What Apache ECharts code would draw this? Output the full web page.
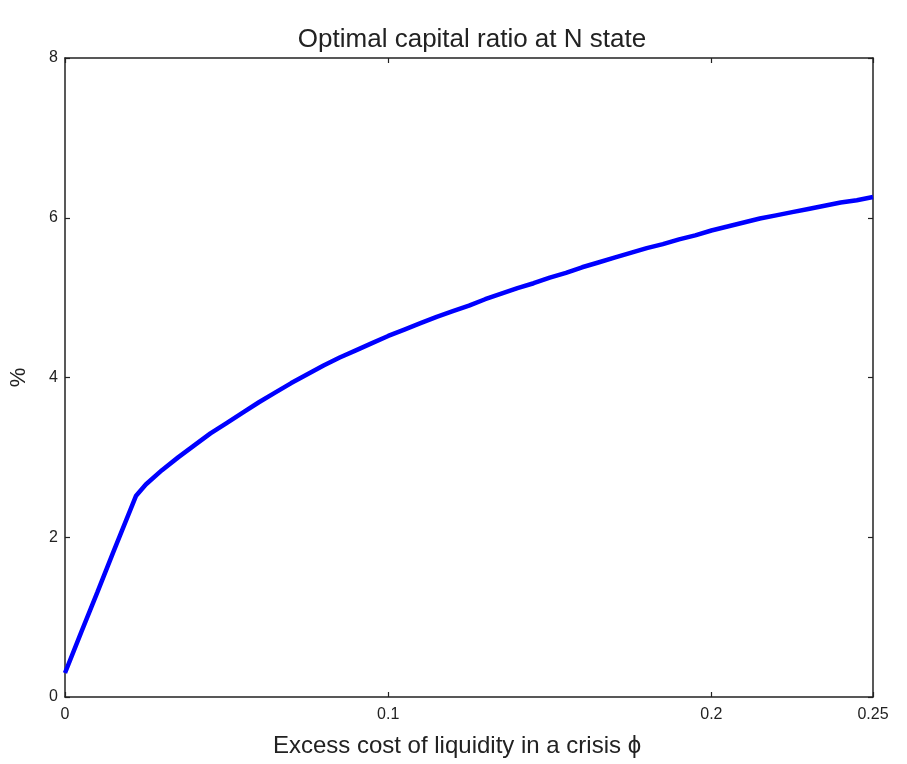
<!DOCTYPE html>
<html>
<head>
<meta charset="utf-8">
<script src="https://cdn.jsdelivr.net/npm/echarts@6/dist/echarts.min.js"></script>
<style>
html,body{margin:0;padding:0;background:#fff;}
#chart{width:907px;height:764px;}
</style>
</head>
<body>
<div id="chart"></div>
<script>
const titleText = 'Optimal capital ratio at N state';
const xName = 'Excess cost of liquidity in a crisis ';
const yName = '%';
const phi = [0, 0.005, 0.01, 0.015, 0.022, 0.025, 0.03, 0.035, 0.04, 0.045, 0.05, 0.055, 0.06, 0.065, 0.07, 0.075, 0.08, 0.085, 0.09, 0.095, 0.1, 0.105, 0.11, 0.115, 0.12, 0.125, 0.13, 0.135, 0.14, 0.145, 0.15, 0.155, 0.16, 0.165, 0.17, 0.175, 0.18, 0.185, 0.19, 0.195, 0.2, 0.205, 0.21, 0.215, 0.22, 0.225, 0.23, 0.235, 0.24, 0.245, 0.25];
const ratio = [0.30, 0.81, 1.31, 1.82, 2.52, 2.66, 2.84, 3.00, 3.15, 3.30, 3.43, 3.56, 3.69, 3.81, 3.93, 4.04, 4.15, 4.25, 4.34, 4.43, 4.52, 4.60, 4.68, 4.76, 4.83, 4.90, 4.98, 5.05, 5.12, 5.18, 5.25, 5.31, 5.38, 5.44, 5.50, 5.56, 5.62, 5.67, 5.73, 5.78, 5.84, 5.89, 5.94, 5.99, 6.03, 6.07, 6.11, 6.15, 6.19, 6.22, 6.26];

const data = phi.map((x, i) => [x, ratio[i]]);
const font = 'Liberation Sans, Arial, sans-serif';
const axisLine = {show: true, onZero: false, lineStyle: {color: '#222', width: 1.5}};
const tick = {show: true, inside: true, length: 5, lineStyle: {color: '#222', width: 1.2}};
const chart = echarts.init(document.getElementById('chart'));
chart.setOption({
  animation: false,
  backgroundColor: '#fff',
  title: {
    text: titleText, left: 467, top: 22, textAlign: 'center',
    textStyle: {fontFamily: font, fontSize: 26, fontWeight: 'normal', color: '#222'}
  },
  grid: {left: 65, right: 34, top: 58, bottom: 67, containLabel: false, outerBoundsMode: 'none'},
  xAxis: [{
    type: 'value', min: 0, max: 0.25, interval: 0.1,
    name: xName + 'ϕ', nameLocation: 'middle', nameGap: 37,
    nameTextStyle: {fontFamily: font, fontSize: 24, color: '#222', padding: [0, 24, 0, 0]},
    axisLine: axisLine, axisTick: tick,
    axisLabel: {fontFamily: font, fontSize: 16, color: '#222', margin: 10, showMaxLabel: true},
    splitLine: {show: false}
  }, {
    type: 'value', min: 0, max: 0.25, interval: 0.1, position: 'top',
    axisLine: axisLine, axisTick: tick,
    axisLabel: {show: false}, splitLine: {show: false}
  }],
  yAxis: [{
    type: 'value', min: 0, max: 8, interval: 2,
    name: yName, nameLocation: 'middle', nameGap: 35, nameRotate: 90,
    nameTextStyle: {fontFamily: font, fontSize: 22, color: '#222'},
    axisLine: axisLine, axisTick: tick,
    axisLabel: {fontFamily: font, fontSize: 16, color: '#222', margin: 7},
    splitLine: {show: false}
  }, {
    type: 'value', min: 0, max: 8, interval: 2, position: 'right',
    axisLine: axisLine, axisTick: tick,
    axisLabel: {show: false}, splitLine: {show: false}
  }],
  series: [{
    type: 'line', data: data, showSymbol: false, smooth: false,
    lineStyle: {color: '#0000ff', width: 4.5}
  }]
});
</script>
</body>
</html>
